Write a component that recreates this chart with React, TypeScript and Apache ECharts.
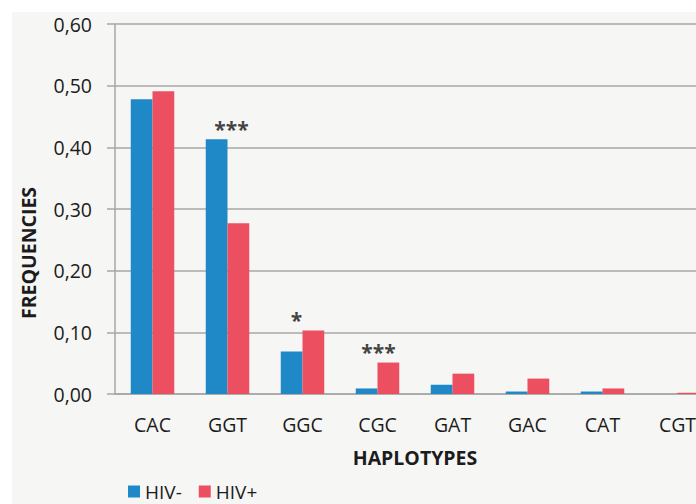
import React, { useEffect, useRef } from "react";
import * as echarts from "echarts";

const categories = ["CAC", "GGT", "GGC", "CGC", "GAT", "GAC", "CAT", "CGT"];
const hivNeg = [0.478, 0.413, 0.069, 0.009, 0.015, 0.004, 0.004, 0];
const hivPos = [0.491, 0.277, 0.103, 0.051, 0.033, 0.025, 0.009, 0.002];
const significance = ["", "***", "*", "***", "", "", "", ""];
const sigOffsetX = [0, 4, -6, 1, 0, 0, 0, 0];

const FONT = "'Open Sans', 'Noto Sans', sans-serif";
const BLUE = "#1f88c6";
const RED = "#eb4f60";
const GRID = "#a7a7a7";
const TEXT = "#1c1c1c";

export default function App() {
  const ref = useRef<HTMLDivElement>(null);
  useEffect(() => {
    if (!ref.current) return;
    const chart = echarts.init(ref.current, undefined, { renderer: "svg" });
    const sigData = categories.map((c, i) => ({
      value: [c, Math.max(hivNeg[i], hivPos[i])],
      label: {
        show: significance[i] !== "",
        formatter: significance[i],
        offset: [sigOffsetX[i], 0],
      },
    }));
    chart.setOption({
      animation: false,
      backgroundColor: "transparent",
      textStyle: { fontFamily: FONT },
      grid: { left: 115, right: 5, top: 24, bottom: 110 },
      legend: {
        left: 128,
        top: 482,
        padding: 0,
        itemWidth: 12,
        itemHeight: 12,
        itemGap: 17,
        icon: "rect",
        data: ["HIV-", "HIV+"],
        textStyle: { fontFamily: FONT, fontSize: 19, color: TEXT, padding: [0, 0, 0, 0] },
      },
      xAxis: {
        type: "category",
        data: categories,
        name: "HAPLOTYPES",
        nameLocation: "middle",
        nameGap: 53,
        nameTextStyle: { fontFamily: FONT, fontSize: 19.5, fontWeight: "bold", color: TEXT },
        axisLine: { show: true, lineStyle: { color: GRID, width: 1.5 } },
        axisTick: { show: false },
        axisLabel: { margin: 20, fontSize: 19.5, color: TEXT, fontFamily: FONT },
      },
      yAxis: {
        type: "value",
        min: 0,
        max: 0.6,
        interval: 0.1,
        axisLine: { show: true, lineStyle: { color: GRID, width: 1.5 } },
        axisTick: { show: true, length: 8, lineStyle: { color: GRID, width: 1.5 } },
        splitLine: { show: true, lineStyle: { color: GRID, width: 1.5 } },
        axisLabel: {
          margin: 23,
          fontSize: 19.5,
          color: TEXT,
          fontFamily: FONT,
          formatter: (v: number) => v.toFixed(2).replace(".", ","),
        },
      },
      graphic: [
        {
          type: "text",
          x: 28,
          y: 253,
          rotation: Math.PI / 2,
          style: {
            text: "FREQUENCIES",
            fontFamily: FONT,
            fontSize: 19.5,
            fontWeight: "bold",
            fill: TEXT,
            align: "center",
            verticalAlign: "middle",
          },
        },
      ],
      series: [
        {
          name: "HIV-",
          type: "bar",
          data: hivNeg,
          barWidth: "29%",
          barGap: "0%",
          itemStyle: { color: BLUE },
        },
        {
          name: "HIV+",
          type: "bar",
          data: hivPos,
          barWidth: "29%",
          itemStyle: { color: RED },
        },
        {
          name: "sig",
          type: "scatter",
          symbolSize: 0,
          data: sigData,
          label: {
            show: true,
            position: "top",
            distance: 0,
            fontSize: 21,
            fontWeight: "bold",
            color: "#111",
            fontFamily: FONT,
          },
        },
      ],
    });
    return () => chart.dispose();
  }, []);
  return (
    <div
      style={{
        position: "fixed",
        left: 0,
        top: 0,
        width: 696,
        height: 504,
        overflow: "hidden",
        background: "#ffffff",
      }}
    >
      <div
        style={{
          position: "absolute",
          left: 12,
          top: 12,
          width: 720,
          height: 520,
          background: "#f6f6f5",
        }}
      />
      <div ref={ref} style={{ position: "absolute", left: 0, top: 0, width: 720, height: 504 }} />
    </div>
  );
}
